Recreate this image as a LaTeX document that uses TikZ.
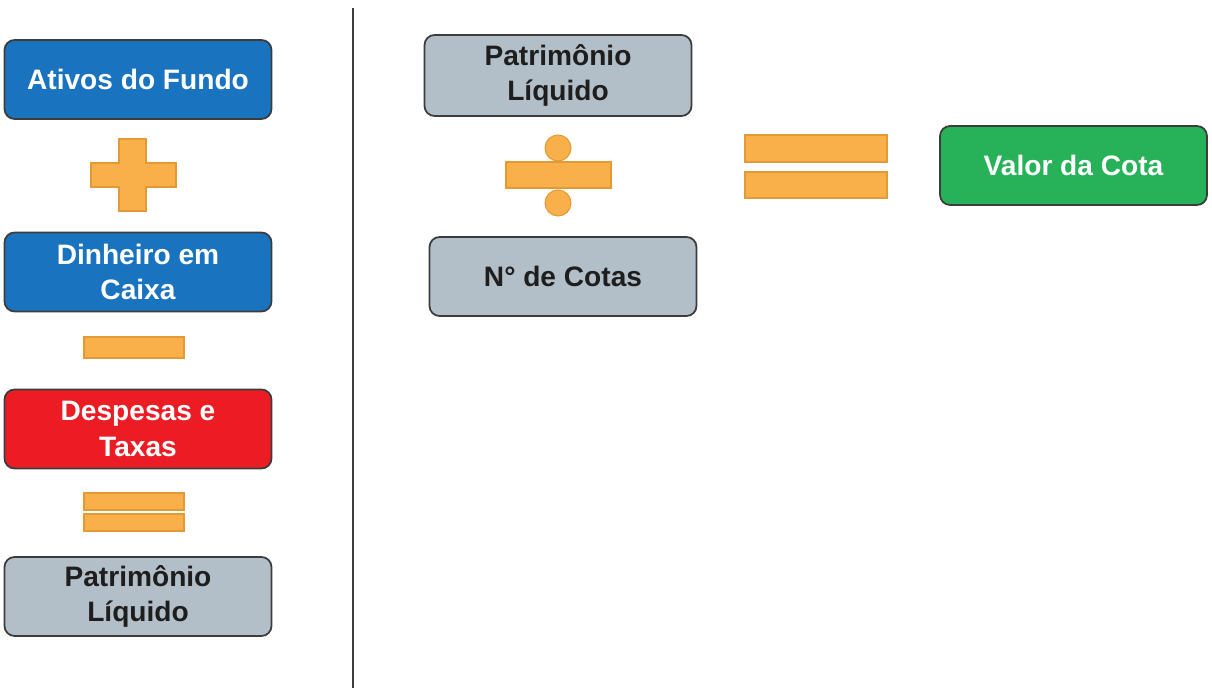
\documentclass[tikz,border=0pt]{standalone}
\usepackage{fontspec}
\setmainfont{Liberation Sans}

\definecolor{azul}{HTML}{1A73BE}
\definecolor{vermelho}{HTML}{EC1C24}
\definecolor{cinza}{HTML}{B3BFC8}
\definecolor{verde}{HTML}{27B259}
\definecolor{laranja}{HTML}{FAB04A}
\definecolor{laranjaborda}{HTML}{E39A35}
\definecolor{contorno}{HTML}{3C3C3C}
\definecolor{texto}{HTML}{1E1E1E}

\tikzset{
    caixa/.style={draw=contorno, line width=1pt, rounded corners=0.2cm,
        minimum width=5.34cm, minimum height=1.58cm, inner sep=0pt,
        align=center, font=\fontsize{16}{20}\selectfont\bfseries},
    ativo/.style={caixa, fill=azul, text=white},
    custo/.style={caixa, fill=vermelho, text=white},
    neutro/.style={caixa, fill=cinza, text=texto},
    final/.style={caixa, fill=verde, text=white},
    sinal/.style={fill=laranja, draw=laranjaborda, line width=0.6pt}
}

\begin{document}
\begin{tikzpicture}[x=0.02cm, y=-0.02cm]

    \useasboundingbox (0, 0) rectangle (1212, 688);

    % Coluna da esquerda
    \node[ativo] (ativos) at (138, 79.5) {Ativos do Fundo};
    \draw[sinal] (91, 163) -- (119, 163) -- (119, 139) -- (146, 139) -- (146, 163)
        -- (176, 163) -- (176, 187) -- (146, 187) -- (146, 211) -- (119, 211)
        -- (119, 187) -- (91, 187) -- cycle;

    \node[ativo] (caixa) at (138, 272) {Dinheiro em\\Caixa};
    \draw[sinal] (84, 337) rectangle (184, 358);

    \node[custo] (despesas) at (138, 429) {Despesas e\\Taxas};
    \draw[sinal] (84, 493) rectangle (184, 510);
    \draw[sinal] (84, 514) rectangle (184, 531);

    \node[neutro] (pl) at (138, 596.5) {Patrimônio\\Líquido};

    % Separador
    \draw[line width=1.3pt, contorno] (353, 8) -- (353, 688);

    % Coluna da direita
    \node[neutro, minimum height=1.62cm] (plcota) at (558, 75.5) {Patrimônio\\Líquido};
    \filldraw[sinal] (558, 148) circle (13);
    \draw[sinal] (506, 162) rectangle (611, 188);
    \filldraw[sinal] (558, 203) circle (13);

    \node[neutro] (cotas) at (563, 276.5) {N° de Cotas};

    \draw[sinal] (745, 135) rectangle (887, 162);
    \draw[sinal] (745, 172) rectangle (887, 198);

    \node[final] (valor) at (1073.5, 165.5) {Valor da Cota};

\end{tikzpicture}
\end{document}
